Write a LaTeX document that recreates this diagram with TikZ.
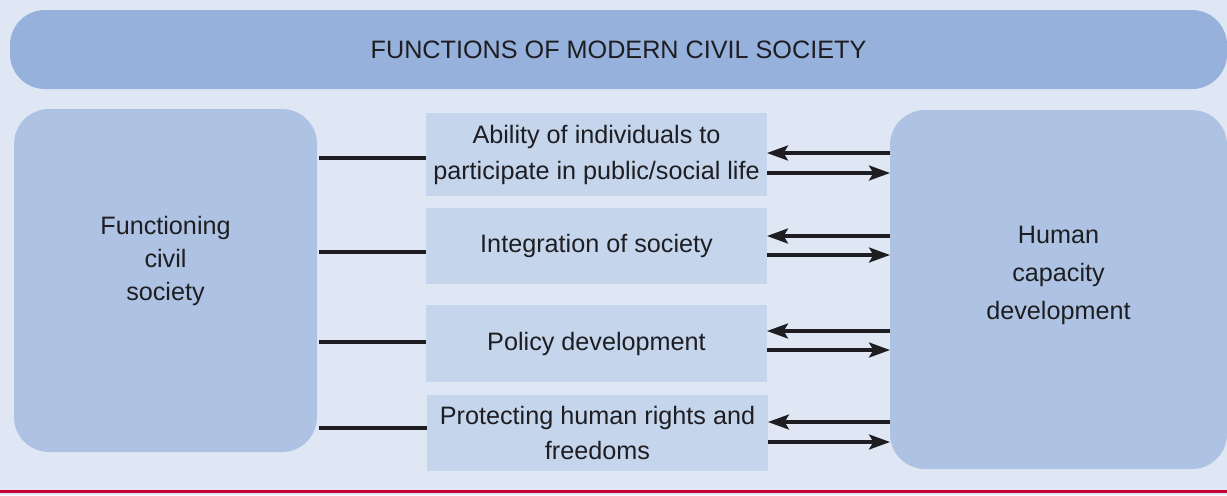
\documentclass[tikz,border=0pt]{standalone}
\usepackage{fontspec}
\setmainfont{Liberation Sans}
\usetikzlibrary{arrows.meta}

\definecolor{pagebg}{HTML}{E0E7F4}
\definecolor{titleblue}{HTML}{96B1DC}
\definecolor{sideblue}{HTML}{AEC3E3}
\definecolor{midblue}{HTML}{C5D5EC}
\definecolor{inkdark}{HTML}{1E1E22}
\definecolor{rulered}{HTML}{C8003A}

\begin{document}
\begin{tikzpicture}[x=0.5pt,y=-0.5pt,
    every node/.style={inner sep=0pt,outer sep=0pt,text=inkdark,
        font=\fontsize{12.6}{18}\selectfont,align=center},
    sidebox/.style={fill=sideblue,rounded corners=17.5pt},
    midbox/.style={fill=midblue,minimum width=170.5pt},
    link/.style={draw=inkdark,line width=1.6pt},
    arr/.style={link,-{Stealth[length=10.5pt,width=7.5pt,inset=2.2pt]}}]

        % Background and bottom rule
        \useasboundingbox (0,0) rectangle (1227,495);
        \fill[pagebg] (0,0) rectangle (1227,495);
        \draw[rulered,line width=1.8pt] (0,491.3) -- (1227,491.3);

        % Title bar
        \node[fill=titleblue,rounded corners=17.5pt,minimum width=608.5pt,
            minimum height=39.5pt] (title) at (618.5,49.5)
            {FUNCTIONS OF MODERN CIVIL SOCIETY};

        % Side boxes
        \node[sidebox,minimum width=151.5pt,minimum height=171.5pt]
            (civil) at (165.5,280.5) {};
        \node[font=\fontsize{12.6}{16.5}\selectfont] (civiltext) at (165.5,261)
            {Functioning\\civil\\society};

        \node[sidebox,minimum width=168.5pt,minimum height=179.5pt]
            (human) at (1058.5,289.5) {};
        \node[font=\fontsize{12.6}{19}\selectfont] (humantext) at (1058.5,275)
            {Human\\capacity\\development};

        % Function boxes
        \node[midbox,minimum height=41.5pt] (f1) at (596.5,154.5)
            {Ability of individuals to\\participate in public/social life};
        \node[midbox,minimum height=38pt] (f2) at (596.5,246)
            {Integration of society};
        \node[midbox,minimum height=38.5pt] (f3) at (596.5,343.5)
            {Policy development};
        \node[midbox,minimum height=38pt,font=\fontsize{12.6}{17.5}\selectfont]
            (f4) at (597.5,433)
            {Protecting human rights and\\freedoms};

        % Links to the left, arrow pairs to the right
        \foreach \f/\yl/\ya/\yb in {f1/158/153/173, f2/252/236/255,
                                   f3/342/331/350, f4/428/422/442} {
            \draw[link,shorten <=1pt] (civil.east |- 0,\yl) -- (\f.west |- 0,\yl);
            \draw[arr] (human.west |- 0,\ya) -- (\f.east |- 0,\ya);
            \draw[arr] (\f.east |- 0,\yb) -- (human.west |- 0,\yb);
        }
\end{tikzpicture}
\end{document}
